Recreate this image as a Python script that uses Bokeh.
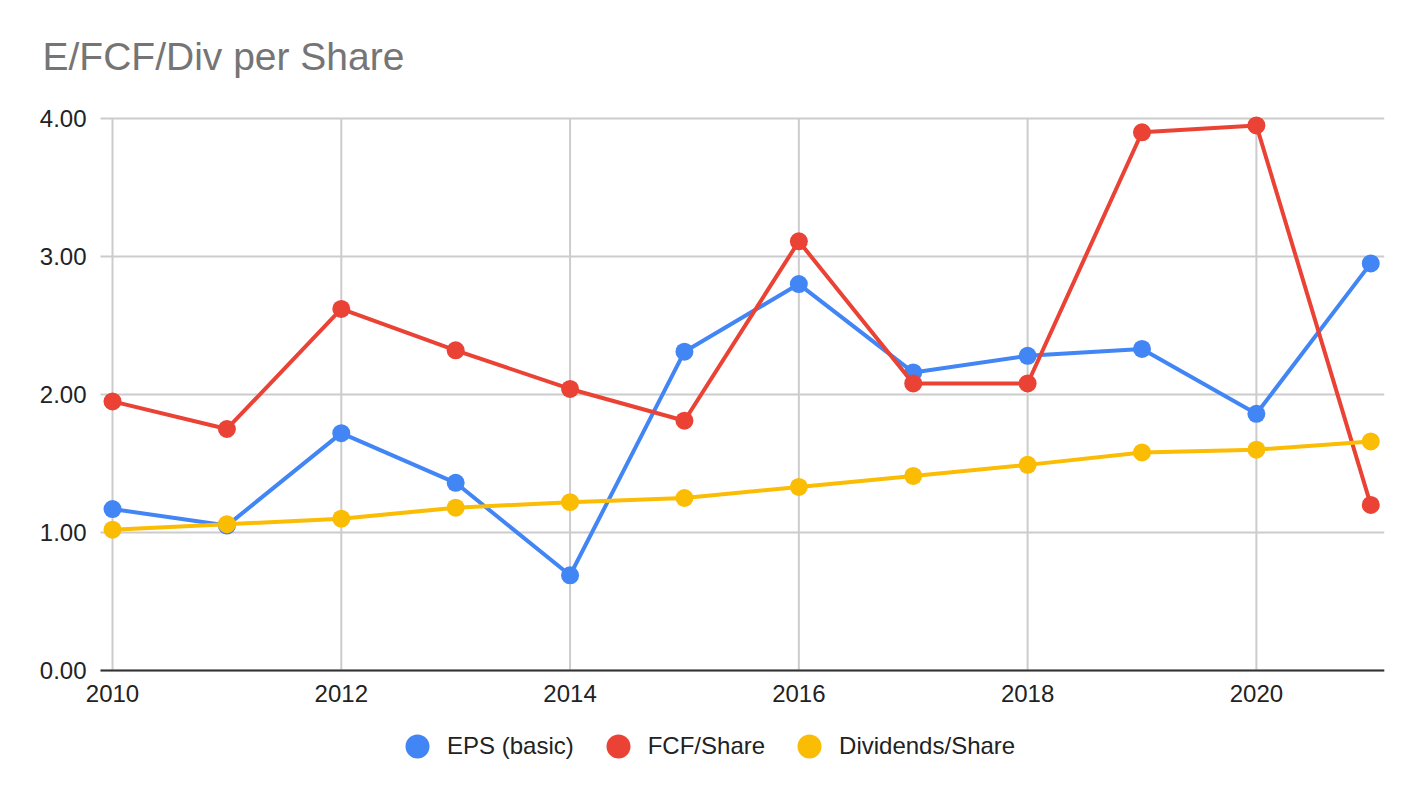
from bokeh.plotting import figure
from bokeh.models import (Range1d, FixedTicker, PrintfTickFormatter, Legend, LegendItem, Title)
from bokeh.embed import file_html
from bokeh.resources import INLINE

years = [2010, 2011, 2012, 2013, 2014, 2015, 2016, 2017, 2018, 2019, 2020, 2021]
eps = [1.17, 1.05, 1.72, 1.36, 0.69, 2.31, 2.80, 2.16, 2.28, 2.33, 1.86, 2.95]
fcf = [1.95, 1.75, 2.62, 2.32, 2.04, 1.81, 3.11, 2.08, 2.08, 3.90, 3.95, 1.20]
div = [1.02, 1.06, 1.10, 1.18, 1.22, 1.25, 1.33, 1.41, 1.49, 1.58, 1.60, 1.66]
series_names = ["EPS (basic)", "FCF/Share", "Dividends/Share"]
series_colors = ["#4285F4", "#EA4335", "#FBBC04"]
x_ticks = [2010, 2012, 2014, 2016, 2018, 2020]
y_ticks = [0, 1, 2, 3, 4]

# extent of the chart area (in data units) inside a larger frame
X_LEFT, X_RIGHT = 2009.895, 2021.12

FONT = "Liberation Sans"

# the frame covers the whole lower/left area so that legend and tick labels are not clipped
p = figure(width=1416, height=790, output_backend="svg", toolbar_location=None,
           x_range=Range1d(2009.283, X_RIGHT), y_range=Range1d(-0.8696, 4.1014),
           min_border_left=30, min_border_right=32, min_border_top=104, min_border_bottom=0)
p.outline_line_color = None
p.background_fill_color = "white"
p.border_fill_color = "white"

p.title = Title(text="E/FCF/Div per Share", text_font=FONT, text_font_size="39px",
                text_font_style="normal", text_color="#757575", align="left",
                offset=12, standoff=53)

# grid lines limited to the chart area
p.xgrid.visible = False
p.ygrid.visible = False
p.segment(x0=x_ticks, y0=[y_ticks[0]] * len(x_ticks), x1=x_ticks, y1=[y_ticks[-1]] * len(x_ticks),
          line_color="#cccccc", line_width=2, level="underlay")
p.segment(x0=[X_LEFT] * len(y_ticks), y0=y_ticks, x1=[X_RIGHT] * len(y_ticks), y1=y_ticks,
          line_color="#cccccc", line_width=2, level="underlay")

# axes
xa = p.xaxis[0]
xa.fixed_location = 0
xa.bounds = (X_LEFT, X_RIGHT)
xa.ticker = FixedTicker(ticks=x_ticks)
xa.formatter = PrintfTickFormatter(format="%d")
xa.axis_line_color = "#333333"
xa.axis_line_width = 2
xa.major_tick_line_color = None
xa.minor_tick_line_color = None
xa.major_label_standoff = 9
xa.major_label_text_font = FONT
xa.major_label_text_font_size = "24px"
xa.major_label_text_color = "#222222"

ya = p.yaxis[0]
ya.fixed_location = X_LEFT
ya.ticker = FixedTicker(ticks=y_ticks)
ya.formatter = PrintfTickFormatter(format="%.2f")
ya.axis_line_color = None
ya.major_tick_line_color = None
ya.minor_tick_line_color = None
ya.major_label_standoff = 8
ya.major_label_text_font = FONT
ya.major_label_text_font_size = "24px"
ya.major_label_text_color = "#222222"

items = []
for name, vals, col in zip(series_names, [eps, fcf, div], series_colors):
    p.line(years, vals, line_color=col, line_width=4)
    r = p.scatter(years, vals, size=18, fill_color=col, line_color=col, line_width=0)
    items.append(LegendItem(label=name, renderers=[r]))

legend = Legend(items=items, orientation="horizontal", location=(357, 14.5),
                glyph_width=60, glyph_height=60, label_standoff=0, spacing=14,
                padding=0, margin=0, border_line_alpha=0, background_fill_alpha=0,
                label_text_font=FONT, label_text_font_size="24px",
                label_text_color="#222222")
p.add_layout(legend, "center")

open("out.html", "w").write(file_html(p, INLINE))
